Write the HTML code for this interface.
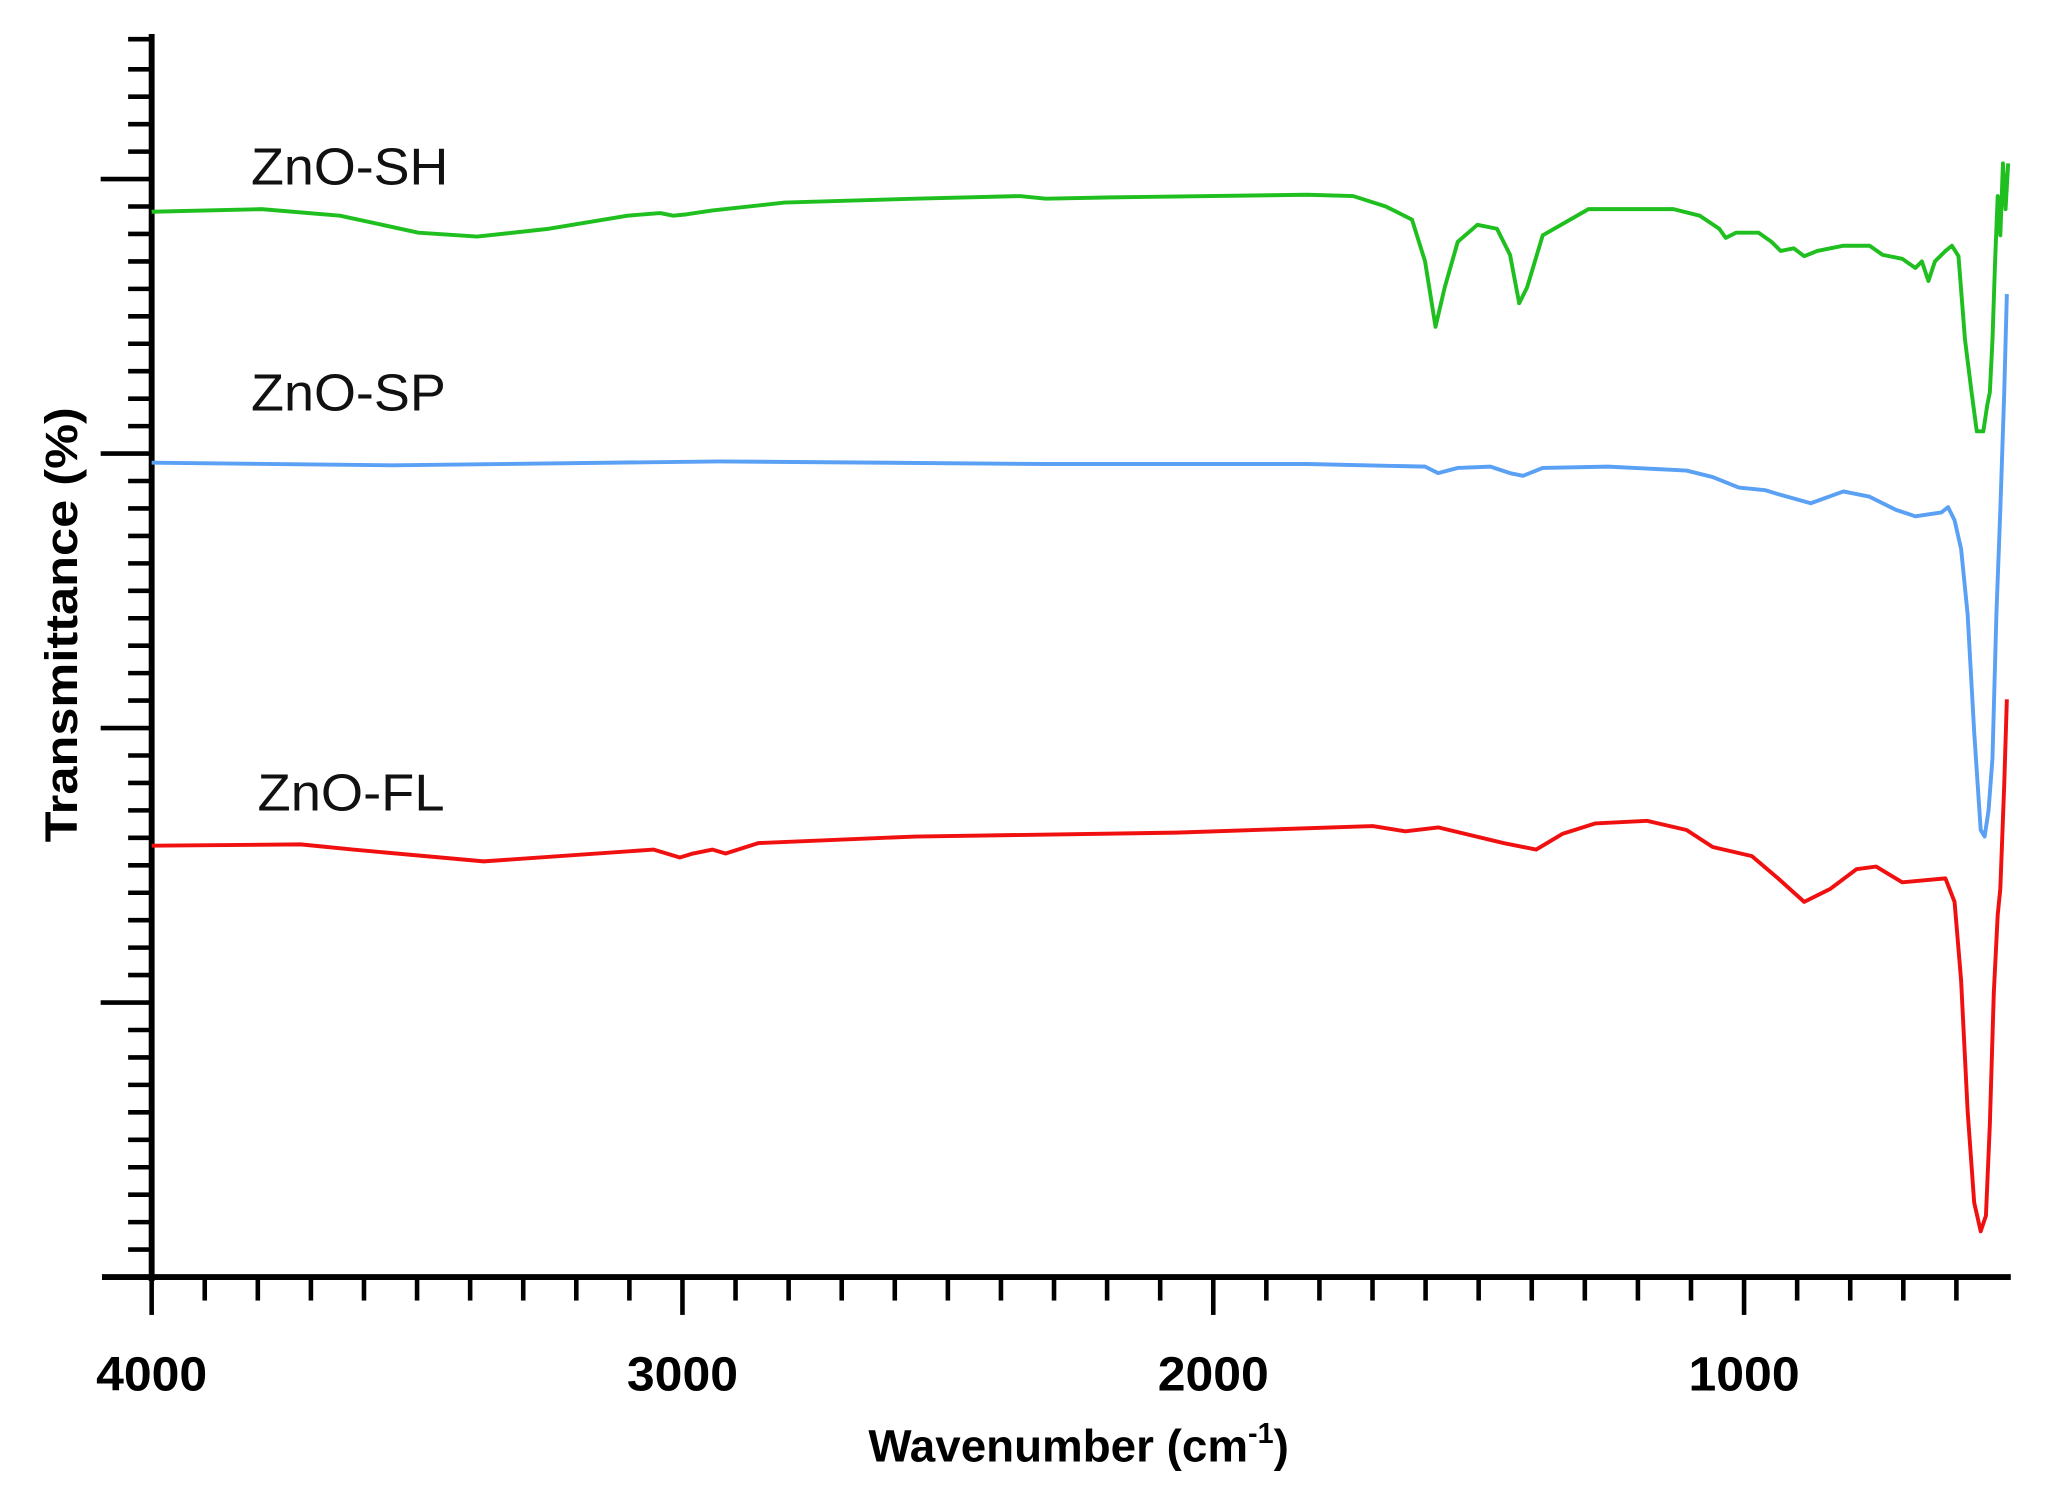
<!DOCTYPE html>
<html><head><meta charset="utf-8"><style>
html,body{margin:0;padding:0;background:#fff;}
svg{display:block;}
</style></head><body>
<svg width="2050" height="1494" viewBox="0 0 1568 1143" preserveAspectRatio="none" xmlns="http://www.w3.org/2000/svg">
<g stroke="#000" fill="none">
<line x1="116" y1="26" x2="116" y2="980" stroke-width="4.5"/>
<line x1="78" y1="977" x2="1538" y2="977" stroke-width="4.5"/>
<g stroke-width="3.5">
<line x1="98" y1="30" x2="116" y2="30"/>
<line x1="98" y1="53" x2="116" y2="53"/>
<line x1="98" y1="74" x2="116" y2="74"/>
<line x1="98" y1="95" x2="116" y2="95"/>
<line x1="98" y1="116" x2="116" y2="116"/>
<line x1="77" y1="137" x2="116" y2="137"/>
<line x1="98" y1="158" x2="116" y2="158"/><line x1="98" y1="179" x2="116" y2="179"/><line x1="98" y1="200" x2="116" y2="200"/><line x1="98" y1="221" x2="116" y2="221"/><line x1="98" y1="242" x2="116" y2="242"/><line x1="98" y1="263" x2="116" y2="263"/><line x1="98" y1="284" x2="116" y2="284"/><line x1="98" y1="305" x2="116" y2="305"/><line x1="98" y1="326" x2="116" y2="326"/>
<line x1="77" y1="347" x2="116" y2="347"/>
<line x1="98" y1="368" x2="116" y2="368"/><line x1="98" y1="389" x2="116" y2="389"/><line x1="98" y1="410" x2="116" y2="410"/><line x1="98" y1="431" x2="116" y2="431"/><line x1="98" y1="452" x2="116" y2="452"/><line x1="98" y1="473" x2="116" y2="473"/><line x1="98" y1="494" x2="116" y2="494"/><line x1="98" y1="515" x2="116" y2="515"/><line x1="98" y1="536" x2="116" y2="536"/>
<line x1="77" y1="557" x2="116" y2="557"/>
<line x1="98" y1="578" x2="116" y2="578"/><line x1="98" y1="599" x2="116" y2="599"/><line x1="98" y1="620" x2="116" y2="620"/><line x1="98" y1="641" x2="116" y2="641"/><line x1="98" y1="662" x2="116" y2="662"/><line x1="98" y1="683" x2="116" y2="683"/><line x1="98" y1="704" x2="116" y2="704"/><line x1="98" y1="725" x2="116" y2="725"/><line x1="98" y1="746" x2="116" y2="746"/>
<line x1="77" y1="767" x2="116" y2="767"/>
<line x1="98" y1="788" x2="116" y2="788"/><line x1="98" y1="809" x2="116" y2="809"/><line x1="98" y1="830" x2="116" y2="830"/><line x1="98" y1="851" x2="116" y2="851"/><line x1="98" y1="872" x2="116" y2="872"/><line x1="98" y1="893" x2="116" y2="893"/><line x1="98" y1="914" x2="116" y2="914"/><line x1="98" y1="935" x2="116" y2="935"/><line x1="98" y1="956" x2="116" y2="956"/>
</g>
<g stroke-width="3.5">
<line x1="116" y1="977" x2="116" y2="1006"/>
<line x1="522" y1="977" x2="522" y2="1006"/>
<line x1="928" y1="977" x2="928" y2="1006"/>
<line x1="1334" y1="977" x2="1334" y2="1006"/>
<line x1="156.6" y1="977" x2="156.6" y2="995"/><line x1="197.2" y1="977" x2="197.2" y2="995"/><line x1="237.8" y1="977" x2="237.8" y2="995"/><line x1="278.4" y1="977" x2="278.4" y2="995"/><line x1="319" y1="977" x2="319" y2="995"/><line x1="359.6" y1="977" x2="359.6" y2="995"/><line x1="400.2" y1="977" x2="400.2" y2="995"/><line x1="440.8" y1="977" x2="440.8" y2="995"/><line x1="481.4" y1="977" x2="481.4" y2="995"/>
<line x1="562.6" y1="977" x2="562.6" y2="995"/><line x1="603.2" y1="977" x2="603.2" y2="995"/><line x1="643.8" y1="977" x2="643.8" y2="995"/><line x1="684.4" y1="977" x2="684.4" y2="995"/><line x1="725" y1="977" x2="725" y2="995"/><line x1="765.6" y1="977" x2="765.6" y2="995"/><line x1="806.2" y1="977" x2="806.2" y2="995"/><line x1="846.8" y1="977" x2="846.8" y2="995"/><line x1="887.4" y1="977" x2="887.4" y2="995"/>
<line x1="968.6" y1="977" x2="968.6" y2="995"/><line x1="1009.2" y1="977" x2="1009.2" y2="995"/><line x1="1049.8" y1="977" x2="1049.8" y2="995"/><line x1="1090.4" y1="977" x2="1090.4" y2="995"/><line x1="1131" y1="977" x2="1131" y2="995"/><line x1="1171.6" y1="977" x2="1171.6" y2="995"/><line x1="1212.2" y1="977" x2="1212.2" y2="995"/><line x1="1252.8" y1="977" x2="1252.8" y2="995"/><line x1="1293.4" y1="977" x2="1293.4" y2="995"/>
<line x1="1374.6" y1="977" x2="1374.6" y2="995"/><line x1="1415.2" y1="977" x2="1415.2" y2="995"/><line x1="1455.8" y1="977" x2="1455.8" y2="995"/><line x1="1496.4" y1="977" x2="1496.4" y2="995"/>
</g>
</g>
<g font-family="Liberation Sans, sans-serif" font-weight="bold" font-size="37" text-anchor="middle" fill="#000">
<text x="116" y="1064" textLength="85" lengthAdjust="spacingAndGlyphs">4000</text>
<text x="522" y="1064" textLength="85" lengthAdjust="spacingAndGlyphs">3000</text>
<text x="928" y="1064" textLength="85" lengthAdjust="spacingAndGlyphs">2000</text>
<text x="1334" y="1064" textLength="85" lengthAdjust="spacingAndGlyphs">1000</text>
<text x="825" y="1118" font-size="35">Wavenumber (cm<tspan font-size="22" dy="-14">-1</tspan><tspan dy="14">)</tspan></text>
<text transform="translate(59,478) rotate(-90)" font-size="35" textLength="333" lengthAdjust="spacingAndGlyphs">Transmittance (%)</text>
</g>
<g font-family="Liberation Sans, sans-serif" font-size="40" fill="#111">
<text x="192" y="141" textLength="151" lengthAdjust="spacingAndGlyphs">ZnO-SH</text>
<text x="192" y="314" textLength="149" lengthAdjust="spacingAndGlyphs">ZnO-SP</text>
<text x="197" y="620" textLength="143" lengthAdjust="spacingAndGlyphs">ZnO-FL</text>
</g>
<g fill="none" stroke-width="3" stroke-linejoin="round">
<polyline stroke="#1fbf1f" points="116,162 200,160 260,165 320,178 365,181 420,175 480,165 505,163 515,165 525,164 545,161 600,155 700,152 780,150 800,152 850,151 1000,149 1035,150 1060,158 1080,168 1090,200 1098,250 1105,220 1115,185 1130,172 1145,175 1155,195 1162,232 1168,220 1180,180 1215,160 1280,160 1300,165 1315,175 1320,182 1328,178 1345,178 1355,185 1362,192 1372,190 1380,196 1390,192 1410,188 1430,188 1440,195 1455,198 1465,205 1470,200 1475,215 1480,200 1488,192 1493,188 1498,196 1503,260 1508,300 1512,330 1517,330 1520,310 1522,300 1524,260 1526,200 1528,150 1530,180 1532,125 1534,160 1536,125"/>
<polyline stroke="#5aa0f5" points="116,354 300,356 550,353 800,355 1000,355 1090,357 1100,362 1115,358 1140,357 1155,362 1165,364 1180,358 1230,357 1290,360 1310,365 1330,373 1350,375 1360,378 1385,385 1410,376 1430,380 1450,390 1465,395 1485,392 1490,388 1495,398 1500,420 1505,470 1510,560 1515,635 1518,640 1521,620 1524,580 1527,470 1530,390 1533,300 1535,225"/>
<polyline stroke="#f01010" points="116,647 230,646 270,650 370,659 500,650 520,656 530,653 545,650 555,653 580,645 700,640 900,637 1050,632 1075,636 1100,633 1150,645 1175,650 1195,638 1220,630 1260,628 1290,635 1310,648 1340,655 1360,672 1380,690 1400,680 1420,665 1435,663 1455,675 1488,672 1495,690 1500,750 1505,850 1510,920 1515,942 1519,930 1522,860 1525,760 1528,700 1530,680 1533,600 1535,535"/>
</g>
</svg>
</body></html>
